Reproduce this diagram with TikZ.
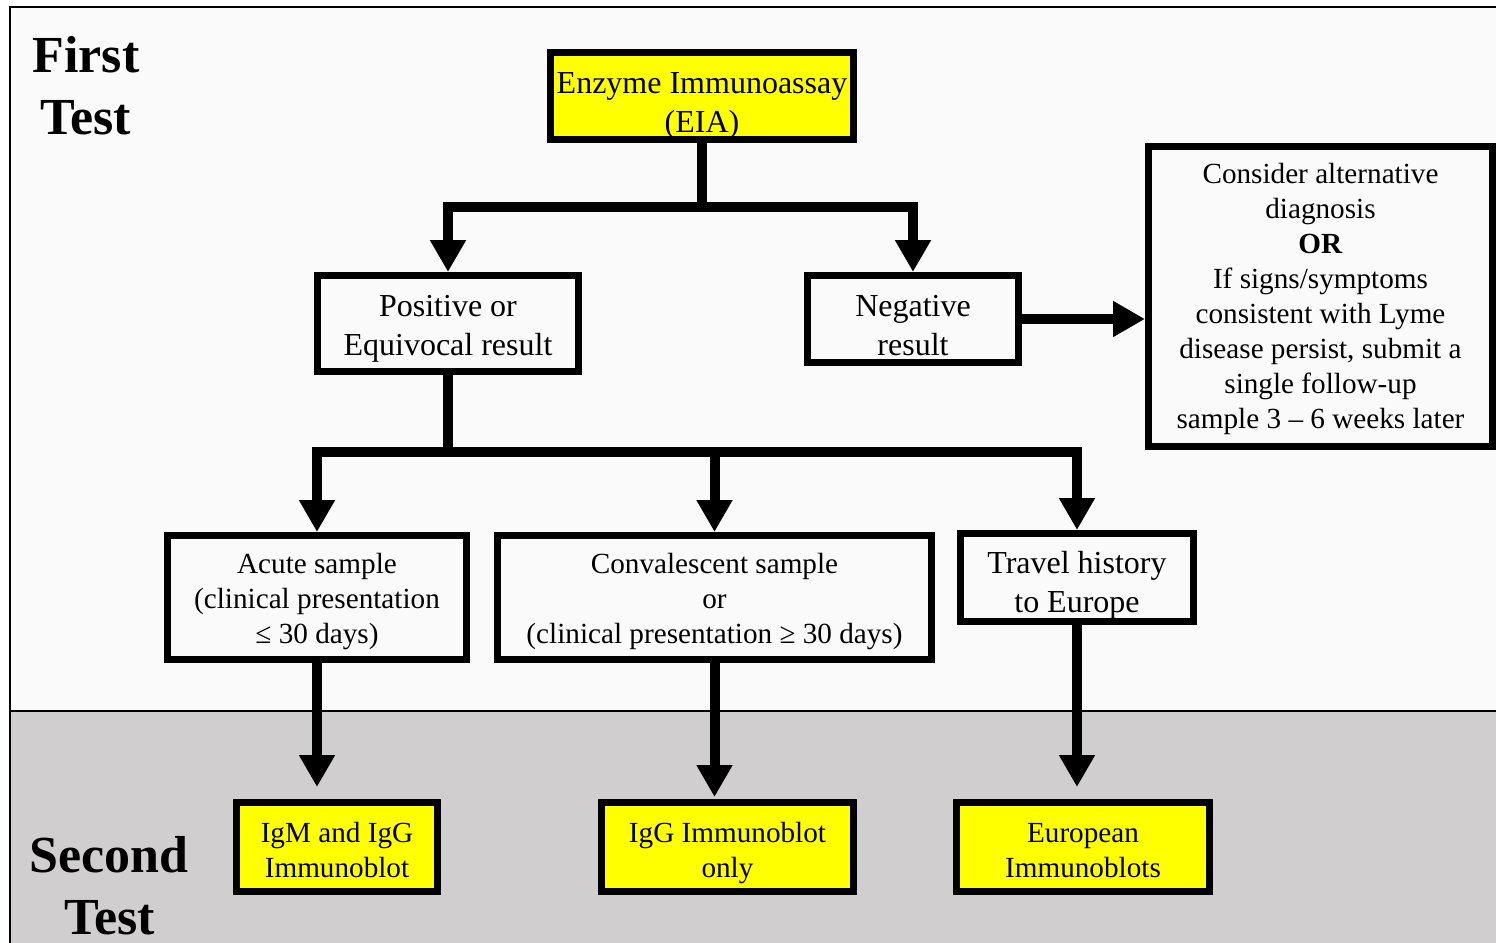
\documentclass[tikz,border=0pt]{standalone}
\usepackage{fontspec}
\setmainfont{Liberation Serif}
\usetikzlibrary{arrows.meta}
\definecolor{topbg}{RGB}{250,250,250}
\definecolor{botbg}{RGB}{208,206,207}
\definecolor{ylw}{RGB}{255,255,0}
\begin{document}
\begin{tikzpicture}[x=0.5pt,y=-0.5pt,
  box/.style={draw, line width=3.5pt, inner sep=0pt, align=center, fill=topbg},
  ybox/.style={box, fill=ylw},
  big/.style={font=\fontsize{16}{19.5}\selectfont},
  small/.style={font=\fontsize{14.6}{17.5}\selectfont},
  tht/.style={text depth=0pt, text height=#1},
  title/.style={font=\fontsize{26}{31.5}\selectfont\bfseries, align=center, inner sep=0pt},
  conn/.style={line width=5pt},
  arr/.style={conn, -{Triangle[width=17pt,length=16pt]}}]
\useasboundingbox (0,0) rectangle (1496,943);
% backgrounds
\fill[white] (0,0) rectangle (1496,943);
\fill[topbg] (10,7) rectangle (1496,711);
\fill[botbg] (10,711) rectangle (1496,943);
\draw[line width=1pt] (1496,7) -- (10,7) -- (10,943);
\draw[line width=1pt] (10,711) -- (1496,711);
% titles
\node[title] (t1a) at (86,55) {First};
\node[title] (t1b) at (86,118) {Test};
\node[title] (t2a) at (109,855) {Second};
\node[title] (t2b) at (110,918) {Test};
% boxes
\node[ybox, big, tht=36pt, minimum width=151.5pt, minimum height=43.5pt] (eia) at (702,96) {Enzyme Immunoassay\\(EIA)};
\node[box, big, tht=31.5pt, minimum width=130.5pt, minimum height=48pt] (pos) at (448,323.5) {Positive or\\Equivocal result};
\node[box, big, tht=36pt, minimum width=105.5pt, minimum height=43.5pt] (neg) at (913,319) {Negative\\result};
\node[box, small, tht=132pt, minimum width=172pt, minimum height=150pt] (alt) at (1320.5,296.5) {Consider alternative\\diagnosis\\\textbf{OR}\\If signs/symptoms\\consistent with Lyme\\disease persist, submit a\\single follow-up\\sample 3 – 6 weeks later};
\node[box, small, tht=45.5pt, minimum width=149.5pt, minimum height=62pt] (acute) at (317,597.5) {Acute sample\\(clinical presentation\\≤ 30 days)};
\node[box, small, tht=45.5pt, minimum width=217pt, minimum height=62pt] (conv) at (714.5,597.5) {Convalescent sample\\or\\(clinical presentation ≥ 30 days)};
\node[box, big, tht=34.5pt, minimum width=116.5pt, minimum height=44pt] (trav) at (1077,577.5) {Travel history\\to Europe};
\node[ybox, small, tht=30pt, minimum width=100.5pt, minimum height=44.5pt] (igm) at (337,847) {IgM and IgG\\Immunoblot};
\node[ybox, small, tht=30pt, minimum width=126pt, minimum height=44.5pt] (igg) at (727.5,847) {IgG Immunoblot\\only};
\node[ybox, small, tht=30pt, minimum width=126.5pt, minimum height=44.5pt] (eur) at (1083,847) {European\\Immunoblots};
% connectors
\coordinate (j1) at (702,207);
\coordinate (j2) at (448,452);
\draw[conn] (eia.south) -- (j1);
\draw[arr] (j1) -| (pos.north);
\draw[arr] (j1) -| (neg.north);
\draw[arr] (neg.east) -- (alt.west |- neg.east);
\draw[conn] (pos.south) -- (j2);
\draw[arr] (j2) -| (acute.north);
\draw[arr] (j2) -| (conv.north);
\draw[arr] (j2) -| (trav.north);
\draw[arr, shorten >=6pt] (acute.south) -- (acute.south |- igm.north);
\draw[arr, shorten >=1pt] (conv.south) -- (conv.south |- igg.north);
\draw[arr, shorten >=6pt] (trav.south) -- (trav.south |- eur.north);
\end{tikzpicture}
\end{document}
